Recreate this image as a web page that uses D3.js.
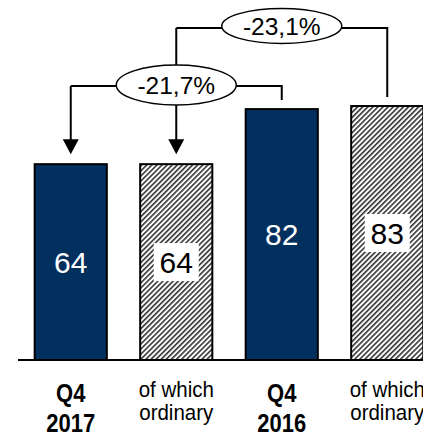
<!DOCTYPE html>
<html>
<head>
<meta charset="utf-8">
<script src="https://cdn.jsdelivr.net/npm/d3@7"></script>
<style>
  html, body { margin: 0; padding: 0; background: #fff; overflow: hidden; }
  svg { display: block; font-family: "Liberation Sans", Arial, sans-serif; }
</style>
</head>
<body>
<svg id="chart" width="423" height="435"></svg>
<script>
// Quarterly figures (bars)
const categories = ["Q4 2017", "of which ordinary 2017", "Q4 2016", "of which ordinary 2016"];
const values = [64, 64, 82, 83];
const kinds = ["total", "ordinary", "total", "ordinary"];
const labelLines = [["Q4", "2017"], ["of which", "ordinary"], ["Q4", "2016"], ["of which", "ordinary"]];

// Year-on-year changes: [from index, to index, label]
const changes = [
  { from: 2, to: 0, label: "-21,7%" },
  { from: 3, to: 1, label: "-23,1%" }
];

const svg = d3.select("#chart");
const navy = "#012f5e";

// hatch pattern for the "of which ordinary" bars
const defs = svg.append("defs");
const pat = defs.append("pattern")
  .attr("id", "hatch")
  .attr("patternUnits", "userSpaceOnUse")
  .attr("width", 3.6).attr("height", 3.6)
  .attr("patternTransform", "rotate(45)");
pat.append("rect").attr("width", 3.6).attr("height", 3.6).attr("fill", "#fff");
pat.append("rect").attr("x", 0).attr("width", 1.6).attr("height", 3.6).attr("fill", "#333");

const x = d3.scaleBand()
  .domain(categories)
  .range([18, 440])
  .paddingInner(0.316)
  .paddingOuter(0.158);

const y = d3.scaleLinear().domain([0, 100]).range([360, 54]);

const cx = i => x(categories[i]) + x.bandwidth() / 2;

// bars
svg.append("g").selectAll("rect")
  .data(values)
  .join("rect")
  .attr("x", (d, i) => x(categories[i]))
  .attr("y", d => y(d))
  .attr("width", x.bandwidth())
  .attr("height", d => y(0) - y(d))
  .attr("fill", (d, i) => kinds[i] === "total" ? navy : "url(#hatch)")
  .attr("stroke", "#000")
  .attr("stroke-width", 2);

// baseline
svg.append("line")
  .attr("x1", 18).attr("x2", 423)
  .attr("y1", y(0)).attr("y2", y(0))
  .attr("stroke", "#000").attr("stroke-width", 2);

// value labels
const vl = svg.append("g");
values.forEach((v, i) => {
  const ym = (y(v) + y(0)) / 2;
  if (kinds[i] === "ordinary") {
    vl.append("rect")
      .attr("x", cx(i) - 22.5).attr("y", ym - 19)
      .attr("width", 45).attr("height", 38)
      .attr("fill", "#fff");
  }
  vl.append("text")
    .attr("x", cx(i)).attr("y", ym)
    .attr("dy", "0.35em")
    .attr("text-anchor", "middle")
    .attr("font-size", 30)
    .attr("fill", kinds[i] === "total" ? "#fff" : "#000")
    .text(v);
});

// category labels (slightly tall lettering)
const cl = svg.append("g");
labelLines.forEach((lines, i) => {
  const bold = kinds[i] === "total";
  lines.forEach((s, j) => {
    const by = bold ? 402 + j * 30 : 397 + j * 23;
    cl.append("text")
      .attr("transform", `translate(${cx(i)},${by}) scale(1,${bold ? 1.15 : 1.1})`)
      .attr("text-anchor", "middle")
      .attr("font-size", bold ? 22 : 20.5)
      .attr("font-weight", bold ? "bold" : "normal")
      .text(s);
  });
});

// change brackets
const lineY = [86, 28];
const ellRY = [20, 17.5];
const g = svg.append("g").attr("stroke", "#000").attr("stroke-width", 2).attr("fill", "none");
changes.forEach((c, k) => {
  const xa = cx(c.to), xb = cx(c.from);
  const ly = lineY[k];
  // leg from the source bar up and across to the target
  g.append("path").attr("d", `M${xb},${y(values[c.from]) - 9}V${ly}H${xa}`);
});

// legs down into the arrows
const arrowTip = i => y(values[i]) - 10;
g.append("path").attr("d", `M${cx(0)},${lineY[0]}V${arrowTip(0) - 14}`);
g.append("path").attr("d", `M${cx(1)},${lineY[1]}V${arrowTip(1) - 14}`);

const ah = svg.append("g").attr("fill", "#000");
[0, 1].forEach(i => {
  const t = arrowTip(i);
  ah.append("path").attr("d", `M${cx(i) - 8},${t - 15}L${cx(i) + 8},${t - 15}L${cx(i)},${t}Z`);
});

// ellipses with labels
changes.forEach((c, k) => {
  const mx = (cx(c.to) + cx(c.from)) / 2;
  const ey = k === 0 ? 85 : 26;
  svg.append("ellipse")
    .attr("cx", mx).attr("cy", ey)
    .attr("rx", 60).attr("ry", ellRY[k])
    .attr("fill", "#fff").attr("stroke", "#000").attr("stroke-width", 1.5);
  svg.append("text")
    .attr("x", mx).attr("y", ey)
    .attr("dy", "0.35em")
    .attr("text-anchor", "middle")
    .attr("font-size", 24.5)
    .text(c.label);
});
</script>
</body>
</html>
